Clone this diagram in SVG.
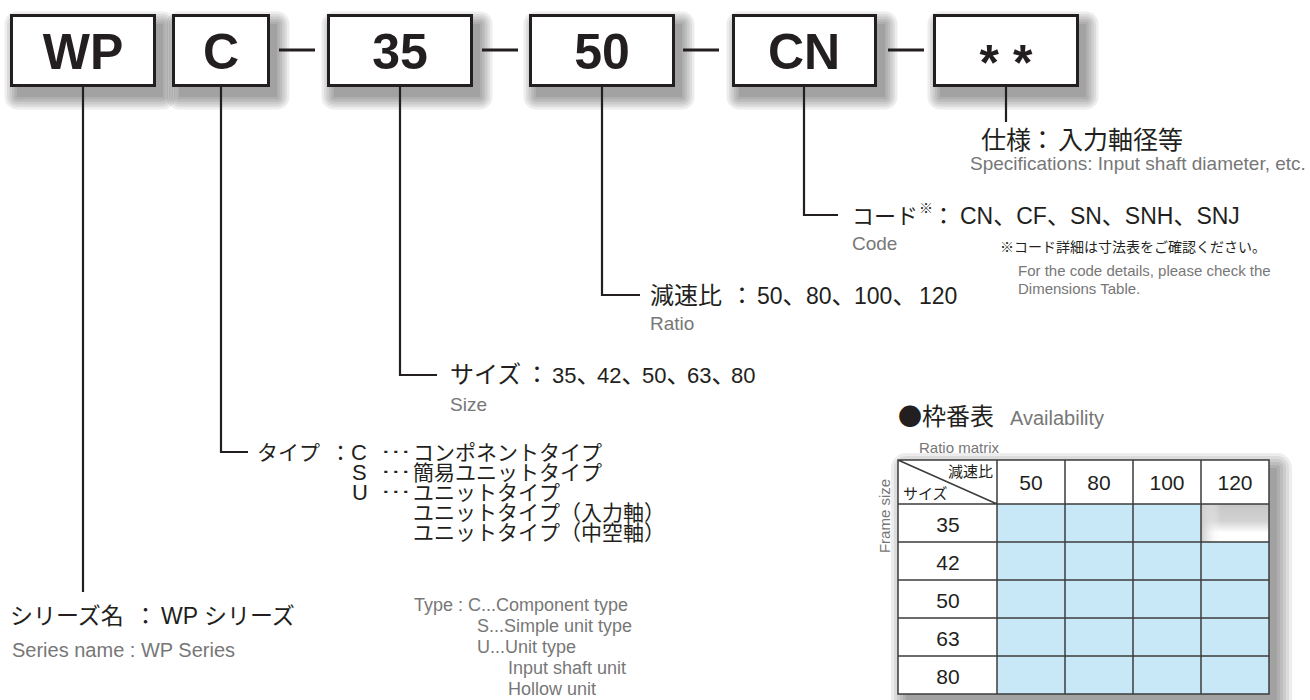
<svg xmlns="http://www.w3.org/2000/svg" width="1310" height="700" viewBox="0 0 1310 700">
  <style>
    .box { fill: #fff; stroke: #231f20; stroke-width: 3; }
    .boxtxt { font-family: "Liberation Sans", Arial, sans-serif; font-weight: bold; font-size: 50px; fill: #231f20; text-anchor: middle; }
    .conn { fill: none; stroke: #231f20; stroke-width: 2.2; }
    .dash { fill: none; stroke: #231f20; stroke-width: 3; }
    .jp { font-family: "Noto Sans CJK JP", sans-serif; fill: #231f20; }
    .lat { font-family: "Liberation Sans", Arial, sans-serif; }
    .en { font-family: "Liberation Sans", Arial, sans-serif; fill: #777; }
    .dots { font-family: "Liberation Sans", Arial, sans-serif; font-size: 21px; fill: #231f20; }
    .grid { fill: none; stroke: #3c3c3c; stroke-width: 1.5; }
    .cell { fill: #c8e8f7; }
    .tnum { font-family: "Liberation Sans", Arial, sans-serif; font-size: 21px; fill: #231f20; text-anchor: middle; }
    .shadow rect { fill: #000; fill-opacity: 0.07; }
  </style>
  <defs>
    <g id="sh146" class="shadow">
      <rect x="7" y="10" width="146" height="73"/>
      <rect x="4.5" y="7.5" width="151" height="78" rx="2.5"/>
      <rect x="2" y="5" width="156" height="83" rx="5"/>
      <rect x="-0.5" y="2.5" width="161" height="88" rx="7.5"/>
      <rect x="-3" y="0" width="166" height="93" rx="10"/>
      <rect x="-5.5" y="-2.5" width="171" height="98" rx="12.5"/>
    </g>
    <g id="sh98" class="shadow">
      <rect x="7" y="10" width="98" height="73"/>
      <rect x="4.5" y="7.5" width="103" height="78" rx="2.5"/>
      <rect x="2" y="5" width="108" height="83" rx="5"/>
      <rect x="-0.5" y="2.5" width="113" height="88" rx="7.5"/>
      <rect x="-3" y="0" width="118" height="93" rx="10"/>
      <rect x="-5.5" y="-2.5" width="123" height="98" rx="12.5"/>
    </g>
    <linearGradient id="gTop" x1="0" y1="0" x2="0" y2="1">
      <stop offset="0" stop-color="#c6c6c6"/>
      <stop offset="0.45" stop-color="#d2d2d2"/>
      <stop offset="0.75" stop-color="#ffffff"/>
    </linearGradient>
    <linearGradient id="gLeft" x1="0" y1="0" x2="1" y2="0">
      <stop offset="0" stop-color="#cccccc" stop-opacity="1"/>
      <stop offset="1" stop-color="#ffffff" stop-opacity="0"/>
    </linearGradient>
  </defs>

  <rect width="1310" height="700" fill="#fff"/>

  <!-- shadows of code boxes -->
  <g id="box-shadows">
    <use href="#sh146" transform="translate(10,14)"/>
    <use href="#sh98" transform="translate(172,14)"/>
    <use href="#sh146" transform="translate(327,14)"/>
    <use href="#sh146" transform="translate(529,14)"/>
    <use href="#sh146" transform="translate(732,14)"/>
    <use href="#sh146" transform="translate(933,14)"/>
  </g>

  <!-- code boxes -->
  <g id="node-wp"><rect class="box" x="11.5" y="15.5" width="143" height="70"/><text class="boxtxt" x="83" y="69">WP</text></g>
  <g id="node-c"><rect class="box" x="173.5" y="15.5" width="95" height="70"/><text class="boxtxt" x="221" y="69">C</text></g>
  <g id="node-35"><rect class="box" x="328.5" y="15.5" width="143" height="70"/><text class="boxtxt" x="400" y="69">35</text></g>
  <g id="node-50"><rect class="box" x="530.5" y="15.5" width="143" height="70"/><text class="boxtxt" x="602" y="69">50</text></g>
  <g id="node-cn"><rect class="box" x="733.5" y="15.5" width="142" height="70"/><text class="boxtxt" x="804" y="69">CN</text></g>
  <g id="node-spec"><rect class="box" x="934.5" y="15.5" width="143" height="70"/><text class="boxtxt" x="1006" y="80" font-size="52">* *</text></g>

  <!-- connectors -->
  <g id="connectors">
    <path class="dash" d="M279,50 H315 M482,50 H518 M683,50 H719 M888,50 H924"/>
    <path class="conn" d="M83,87 V592"/>
    <path class="conn" d="M221,87 V452 H248"/>
    <path class="conn" d="M400,87 V375 H437"/>
    <path class="conn" d="M602,87 V295 H640"/>
    <path class="conn" d="M804,87 V215 H838"/>
    <path class="conn" d="M1006,87 V122"/>
  </g>

  <!-- spec label -->
  <g id="label-spec">
    <text class="jp" y="149" font-size="25"><tspan x="981">仕様</tspan><tspan x="1030">：</tspan><tspan x="1058">入力軸径等</tspan></text>
    <text class="en" x="970" y="170" font-size="19">Specifications: Input shaft diameter, etc.</text>
  </g>

  <!-- code label -->
  <g id="label-code">
    <text class="jp" x="852" y="224" font-size="22">コード</text>
    <text class="jp" x="919" y="213" font-size="14">※</text>
    <text class="jp" y="224" font-size="23"><tspan x="932">：</tspan><tspan class="lat" x="960">CN</tspan>、<tspan class="lat">CF</tspan>、<tspan class="lat">SN</tspan>、<tspan class="lat">SNH</tspan>、<tspan class="lat">SNJ</tspan></text>
    <text class="en" x="852" y="250" font-size="19">Code</text>
    <text class="jp" x="1000" y="252" font-size="14">※コード詳細は寸法表をご確認ください。</text>
    <text class="en" x="1018" y="276" font-size="15">For the code details, please check the</text>
    <text class="en" x="1018" y="294" font-size="15">Dimensions Table.</text>
  </g>

  <!-- ratio label -->
  <g id="label-ratio">
    <text class="jp" y="304" font-size="24"><tspan x="650">減速比</tspan><tspan x="730">：</tspan><tspan class="lat" x="757" font-size="23">50</tspan>、<tspan class="lat" x="806" font-size="23">80</tspan>、<tspan class="lat" x="854" font-size="23">100</tspan>、<tspan class="lat" x="919" font-size="23">120</tspan></text>
    <text class="en" x="650" y="330" font-size="19">Ratio</text>
  </g>

  <!-- size label -->
  <g id="label-size">
    <text class="jp" y="383" font-size="24"><tspan x="450">サイズ</tspan><tspan x="525">：</tspan><tspan class="lat" x="552" font-size="22">35</tspan>、<tspan class="lat" x="597" font-size="22">42</tspan>、<tspan class="lat" x="642" font-size="22">50</tspan>、<tspan class="lat" x="687" font-size="22">63</tspan>、<tspan class="lat" x="731" font-size="22">80</tspan></text>
    <text class="en" x="450" y="411" font-size="19">Size</text>
  </g>

  <!-- type label -->
  <g id="label-type">
    <text class="jp" y="460" font-size="21"><tspan x="257">タイプ</tspan><tspan x="330">：</tspan><tspan class="lat" x="351" font-size="22">C</tspan></text>
    <text class="dots" transform="translate(380,453) scale(1.5,1)">…</text>
    <text class="jp" x="413" y="460" font-size="21">コンポネントタイプ</text>
    <text class="lat" x="352" y="480" font-size="22" fill="#231f20">S</text>
    <text class="dots" transform="translate(380,473) scale(1.5,1)">…</text>
    <text class="jp" x="413" y="480" font-size="21">簡易ユニットタイプ</text>
    <text class="lat" x="352" y="500" font-size="22" fill="#231f20">U</text>
    <text class="dots" transform="translate(380,493) scale(1.5,1)">…</text>
    <text class="jp" x="413" y="500" font-size="21">ユニットタイプ</text>
    <text class="jp" x="413" y="520" font-size="21">ユニットタイプ（入力軸）</text>
    <text class="jp" x="413" y="540" font-size="21">ユニットタイプ（中空軸）</text>
    <text class="en" font-size="18" x="414" y="611">Type : C...Component type</text>
    <text class="en" font-size="18" x="477" y="632">S...Simple unit type</text>
    <text class="en" font-size="18" x="477" y="653">U...Unit type</text>
    <text class="en" font-size="18" x="508" y="674">Input shaft unit</text>
    <text class="en" font-size="18" x="508" y="695">Hollow unit</text>
  </g>

  <!-- series label -->
  <g id="label-series">
    <text class="jp" y="624" font-size="23"><tspan x="10">シリーズ名</tspan><tspan x="134">：</tspan><tspan class="lat" x="161">WP</tspan><tspan x="204">シリーズ</tspan></text>
    <text class="en" x="12" y="657" font-size="20">Series name : WP Series</text>
  </g>

  <!-- availability table -->
  <g id="availability">
    <text class="jp" x="898" y="425" font-size="24">●枠番表</text>
    <text class="en" x="1010" y="425" font-size="20">Availability</text>
    <text class="en" x="919" y="453" font-size="15">Ratio matrix</text>
    <text class="en" font-size="15" text-anchor="middle" transform="translate(890,516) rotate(-90)">Frame size</text>

    <g class="shadow" id="table-shadow">
      <rect x="906" y="468" width="371" height="234"/>
      <rect x="903" y="465" width="377" height="240" rx="3"/>
      <rect x="900" y="462" width="383" height="246" rx="6"/>
      <rect x="897" y="459" width="389" height="252" rx="9"/>
      <rect x="894" y="456" width="395" height="258" rx="12"/>
      <rect x="891" y="453" width="401" height="264" rx="15"/>
    </g>
    <rect x="898" y="460" width="371" height="234" fill="#fff"/>
    <g id="cells">
      <rect class="cell" x="997" y="504" width="68" height="38"/>
      <rect class="cell" x="1065" y="504" width="68" height="38"/>
      <rect class="cell" x="1133" y="504" width="68" height="38"/>
      <rect class="cell" x="997" y="542" width="272" height="152"/>
    </g>
    <rect x="1201" y="504" width="68" height="38" fill="url(#gTop)"/>
    <rect x="1201" y="504" width="20" height="38" fill="url(#gLeft)"/>
    <path class="grid" d="M898,460 H1269 V694 H898 Z M898,504 H1269 M898,542 H1269 M898,580 H1269 M898,618 H1269 M898,656 H1269 M997,460 V694 M1065,460 V694 M1133,460 V694 M1201,460 V694 M898,460 L997,504"/>
    <text class="jp" x="993" y="477" font-size="15" text-anchor="end">減速比</text>
    <text class="jp" x="903" y="499" font-size="15">サイズ</text>
    <text class="tnum" x="1031" y="490">50</text>
    <text class="tnum" x="1099" y="490">80</text>
    <text class="tnum" x="1167" y="490">100</text>
    <text class="tnum" x="1235" y="490">120</text>
    <text class="tnum" x="948" y="532">35</text>
    <text class="tnum" x="948" y="570">42</text>
    <text class="tnum" x="948" y="608">50</text>
    <text class="tnum" x="948" y="646">63</text>
    <text class="tnum" x="948" y="684">80</text>
  </g>
</svg>
